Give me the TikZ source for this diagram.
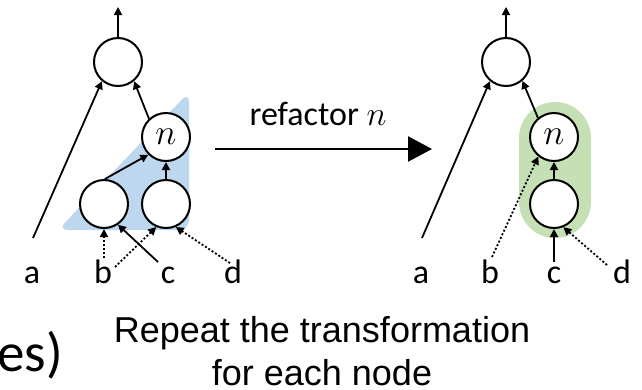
\RequirePackage{fix-cm}
\documentclass[tikz,border=0pt]{standalone}
\usepackage{fontspec}
\setmainfont{Carlito}
\newfontfamily\capfont{Liberation Sans}
\usetikzlibrary{arrows.meta}
\definecolor{regionblue}{RGB}{189,215,238}
\definecolor{regiongreen}{RGB}{197,224,180}
\tikzset{
  gate/.style={circle, draw, line width=2pt, fill=white, minimum size=48pt, inner sep=0pt},
  wire/.style={line width=1.8pt, -{Triangle[length=8pt,width=8pt]}},
  dotwire/.style={wire, dash pattern=on 2pt off 2pt},
  leaf/.style={font=\fontsize{34}{40}\selectfont, anchor=base, inner sep=0pt},
}
\begin{document}
\begin{tikzpicture}[x=1pt,y=-1pt]
\useasboundingbox (0,0) rectangle (642,389);

% ---------- before refactoring ----------
\fill[regionblue, rounded corners=10pt] (58,230) -- (189,92) -- (189,230) -- cycle;
\node[gate] (t1) at (118,62) {};
\node[gate, font=\fontsize{36}{40}\selectfont] (n1) at (166,137) {$n$};
\node[gate] (p1) at (104,204) {};
\node[gate] (q1) at (166,204) {};

\node[leaf] (la) at (32,283) {a};
\node[leaf] (lb) at (103,283) {b};
\node[leaf] (lc) at (168,283) {c};
\node[leaf] (ld) at (233,283) {d};

\coordinate (o1) at (118,7);
\coordinate (a1) at (33,238);
\coordinate (b1) at (104,258);
\coordinate (b1x) at (115,267);
\coordinate (c1) at (158,262);
\coordinate (d1) at (230,263);

\draw[wire] (t1) -- (o1);
\draw[wire] (a1) -- (t1.230);
\draw[wire] (n1.133) -- (t1.-50);
\draw[wire] (p1.88) -- (n1.225);
\draw[wire] (q1) -- (n1);
\draw[dotwire] (b1) -- (p1);
\draw[dotwire] (b1x) -- (q1.247);
\draw[wire] (c1) -- (p1.-56);
\draw[dotwire] (d1) -- (q1.-67);

% ---------- transformation arrow ----------
\coordinate (s0) at (215,149);
\coordinate (s1) at (432,149);
\draw[line width=2.5pt, -{Triangle[length=24pt,width=25pt]}] (s0) -- (s1);
\node[anchor=base, inner sep=0pt, font=\fontsize{34}{40}\selectfont] (rf) at (318,125) {refactor $n$};

% ---------- after refactoring ----------
\fill[regiongreen, rounded corners=36pt] (519,102) rectangle (591,238);
\node[gate] (t2) at (506,62) {};
\node[gate, font=\fontsize{36}{40}\selectfont] (n2) at (554,137) {$n$};
\node[gate] (r2) at (554,204) {};

\node[leaf] (ra) at (421,283) {a};
\node[leaf] (rb) at (490,283) {b};
\node[leaf] (rc) at (554,283) {c};
\node[leaf] (rd) at (622,283) {d};

\coordinate (o2) at (506,7);
\coordinate (a2) at (422,238);
\coordinate (b2) at (492,257);
\coordinate (c2) at (554,262);
\coordinate (d2) at (607,265);

\draw[wire] (t2) -- (o2);
\draw[wire] (a2) -- (t2.230);
\draw[wire] (n2.130) -- (t2.-49);
\draw[wire] (r2) -- (n2);
\draw[dotwire] (b2) -- (n2.231);
\draw[wire] (c2) -- (r2);
\draw[dotwire] (d2) -- (r2.-68);

% ---------- captions ----------
\node[anchor=base, inner sep=0pt, font=\capfont\fontsize{36}{43}\selectfont] (cap1) at (322,342) {Repeat the transformation};
\node[anchor=base, inner sep=0pt, font=\capfont\fontsize{36}{43}\selectfont] (cap2) at (322,385) {for each node};
\node[anchor=base east, inner sep=0pt, font=\fontsize{55}{60}\selectfont] (es) at (63,371) {es)};
\end{tikzpicture}
\end{document}
